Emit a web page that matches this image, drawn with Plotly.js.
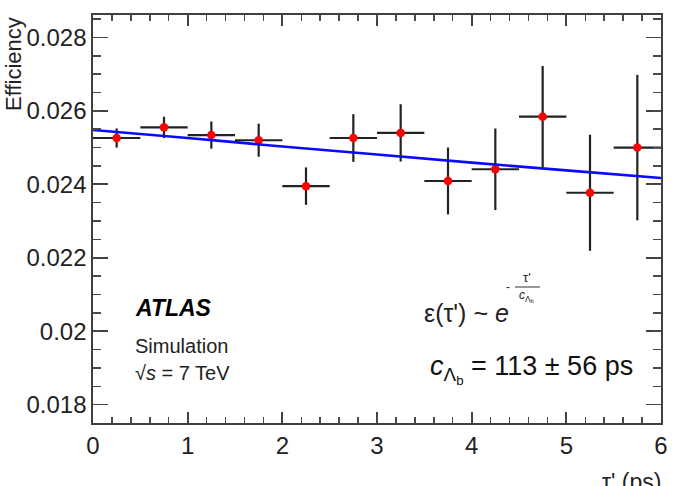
<!DOCTYPE html>
<html>
<head>
<meta charset="utf-8">
<script src="https://cdn.plot.ly/plotly-3.0.1.min.js"></script>
<style>html,body{margin:0;padding:0;background:#fff;}#chart{width:673px;height:486px;}</style>
</head>
<body>
<div id="chart"></div>
<script>
// Data
const tauBins = [0.25, 0.75, 1.25, 1.75, 2.25, 2.75, 3.25, 3.75, 4.25, 4.75, 5.25, 5.75];
const binHalfWidth = [0.25, 0.25, 0.25, 0.25, 0.25, 0.25, 0.25, 0.25, 0.25, 0.25, 0.25, 0.25];
const efficiency = [0.02526, 0.02555, 0.02534, 0.02520, 0.02395, 0.02526, 0.02540, 0.02409, 0.02441, 0.02584, 0.02377, 0.02500];
const effError = [0.00026, 0.00029, 0.00037, 0.00045, 0.00051, 0.00065, 0.00078, 0.00091, 0.00111, 0.00138, 0.00158, 0.00198];
const fitX = [0, 1, 2, 3, 4, 5, 6];
const fitY = [0.02548, 0.02526, 0.02503, 0.02481, 0.02459, 0.02438, 0.02417];
const yTickVals = [0.018, 0.020, 0.022, 0.024, 0.026, 0.028];
const yTickText = ["0.018", "0.02", "0.022", "0.024", "0.026", "0.028"];
const xTickVals = [0, 1, 2, 3, 4, 5, 6];
const xTickText = ["0", "1", "2", "3", "4", "5", "6"];

const L = 93, R = 661, T = 15, B = 423;
const px = x => (x - L) / (R - L);
const py = y => (B - y) / (B - T);
const FONT = "Liberation Sans, Arial, Helvetica, sans-serif";
const axisCol = "#404040";
const minorCol = "#4a4a4a";
const XR = [0, 6], YR = [0.0175, 0.02861];

const traces = [
  {
    x: tauBins, y: efficiency, mode: "markers", type: "scatter",
    marker: {color: "#ff0000", size: 8.5},
    error_y: {type: "data", array: effError, visible: true, color: "#222", thickness: 2.2, width: 0},
    error_x: {type: "data", array: binHalfWidth, visible: true, color: "#222", thickness: 2.2, width: 0},
    showlegend: false
  },
  {
    x: fitX, y: fitY, mode: "lines", type: "scatter", xaxis: "x2", yaxis: "y2",
    line: {color: "#0a0aff", width: 2.6, shape: "spline"},
    hoverinfo: "skip", showlegend: false
  }
];

const layout = {
  width: 673, height: 486,
  margin: {l: L, r: 673 - R, t: T, b: 486 - B, pad: 0},
  paper_bgcolor: "#fff", plot_bgcolor: "#fff",
  font: {family: FONT, color: "#111", size: 22},
  xaxis: {
    range: XR, tickmode: "array", tickvals: xTickVals, ticktext: xTickText,
    ticks: "inside", ticklen: 11, tickwidth: 1.7, tickcolor: axisCol,
    showline: true, linecolor: axisCol, linewidth: 1.7, mirror: "allticks",
    showgrid: false, zeroline: false,
    tickfont: {size: 24, family: FONT, color: "#222"}
  },
  yaxis: {
    range: YR, tickmode: "array", tickvals: yTickVals, ticktext: yTickText,
    ticks: "inside", ticklen: 15, tickwidth: 1.7, tickcolor: axisCol,
    showline: true, linecolor: axisCol, linewidth: 1.7, mirror: "allticks",
    showgrid: false, zeroline: false,
    tickfont: {size: 24, family: FONT, color: "#222"}
  },
  // overlay axes with identical ranges that carry the minor tick marks
  xaxis2: {
    overlaying: "x", anchor: "y2", side: "bottom", range: XR, tickmode: "linear", tick0: 0, dtick: 0.2,
    ticks: "inside", ticklen: 6, tickwidth: 1.5, tickcolor: minorCol, mirror: "allticks",
    showline: false, showticklabels: false, showgrid: false, zeroline: false
  },
  yaxis2: {
    overlaying: "y", anchor: "x2", side: "left", range: YR, tickmode: "linear", tick0: 0.018, dtick: 0.0005,
    ticks: "inside", ticklen: 8, tickwidth: 1.5, tickcolor: minorCol, mirror: "allticks",
    showline: false, showticklabels: false, showgrid: false, zeroline: false
  },
  shapes: [
    {type: "line", xref: "paper", yref: "paper", x0: px(515), x1: px(540), y0: py(287), y1: py(287),
     line: {color: "#333", width: 1}}
  ],
  annotations: [
    {text: "Efficiency", xref: "paper", yref: "paper", x: px(13), y: 1.0, xanchor: "center", yanchor: "top",
     textangle: -90, showarrow: false, font: {size: 22, family: FONT, color: "#222"}},
    {text: "τ' (ps)", xref: "paper", yref: "paper", x: 1.003, y: py(482), xanchor: "right", yanchor: "middle",
     showarrow: false, font: {size: 23, family: FONT, color: "#222"}},
    {text: "<b><i>ATLAS</i></b>", xref: "paper", yref: "paper", x: px(133), y: py(308), xanchor: "left", yanchor: "middle",
     showarrow: false, font: {size: 23, family: FONT, color: "#000"}},
    {text: "Simulation", xref: "paper", yref: "paper", x: px(133), y: py(346), xanchor: "left", yanchor: "middle",
     showarrow: false, font: {size: 20, family: FONT, color: "#222"}},
    {text: "√<i>s</i> = 7 TeV", xref: "paper", yref: "paper", x: px(133), y: py(373), xanchor: "left", yanchor: "middle",
     showarrow: false, font: {size: 20, family: FONT, color: "#222"}},
    {text: "ε(τ') ~ <i>e</i>", xref: "paper", yref: "paper", x: px(422), y: py(313), xanchor: "left", yanchor: "middle",
     showarrow: false, font: {size: 25, family: FONT, color: "#222"}},
    {text: "-", xref: "paper", yref: "paper", x: px(508), y: py(287), xanchor: "center", yanchor: "middle",
     showarrow: false, font: {size: 12, family: FONT, color: "#222"}},
    {text: "τ'", xref: "paper", yref: "paper", x: px(527), y: py(277), xanchor: "center", yanchor: "middle",
     showarrow: false, font: {size: 13, family: FONT, color: "#222"}},
    {text: "<i>c</i><sub>Λ<sub>b</sub></sub>", xref: "paper", yref: "paper", x: px(527), y: py(296), xanchor: "center", yanchor: "middle",
     showarrow: false, font: {size: 12, family: FONT, color: "#222"}},
    {text: "<i>c</i><sub>Λ<sub>b</sub></sub> = 113 ± 56 ps", xref: "paper", yref: "paper", x: px(428), y: py(369), xanchor: "left", yanchor: "middle",
     showarrow: false, font: {size: 27, family: FONT, color: "#111"}}
  ]
};

Plotly.newPlot("chart", traces, layout, {displayModeBar: false, staticPlot: true});
</script>
</body>
</html>
